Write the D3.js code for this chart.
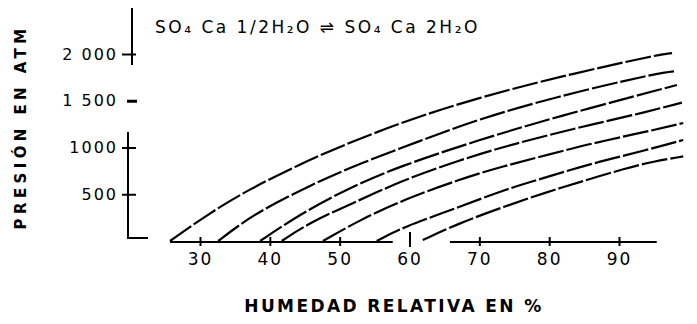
<!DOCTYPE html>
<html><head><meta charset="utf-8">
<script src="https://cdn.jsdelivr.net/npm/d3@7/dist/d3.min.js"></script>
<style>body{margin:0;background:#fff}svg{display:block}</style>
</head><body><svg id="c" width="697" height="324"></svg>
<script>
// ---- data ----
const chartTitle = "SO₄ Ca 1/2H₂O ⇌ SO₄ Ca 2H₂O";
const xTitle = "HUMEDAD RELATIVA EN %";
const yTitle = "PRESIÓN EN ATM";
const xTicks = [30, 40, 50, 60, 70, 80, 90];
const xTickLabels = ["30", "40", "50", "60", "70", "80", "90"];
const yTicks = [500, 1000, 1500, 2000];
const yTickLabels = ["500", "1000", "1 500", "2 000"];
// [humedad relativa %, presión atm]
const curve1 = [[25.7,0],[31.4,300],[37.2,560],[44.3,820],[50.0,1010],[59.6,1290],[69.7,1530],[81.6,1760],[95.4,1990],[97.6,2010]];
const curve2 = [[32.6,0],[35.7,175],[38.6,320],[45.3,580],[52.9,830],[61.5,1070],[69.7,1300],[81.1,1545],[95.4,1795],[98.3,1818]];
const curve3 = [[38.6,0],[44.3,285],[51.1,560],[58.6,800],[69.7,1075],[81.1,1330],[98.3,1668]];
const curve4 = [[41.7,0],[45.8,203],[52.9,438],[59.1,652],[67.2,866],[73.4,1005],[79.7,1130],[86.3,1250],[93.4,1370],[99.0,1480]];
const curve5 = [[47.6,0],[52.9,225],[59.1,439],[67.2,660],[73.4,800],[79.7,920],[86.3,1048],[93.4,1160],[99.2,1262]];
const curve6 = [[55.3,0],[59.1,150],[67.2,364],[73.4,545],[79.7,684],[86.3,834],[94.0,973],[99.2,1080]];
const curve7 = [[61.9,11],[67.2,193],[73.4,364],[79.7,524],[84.4,631],[91.1,781],[94.9,850],[99.2,905]];
const curves = [curve1, curve2, curve3, curve4, curve5, curve6, curve7];

// ---- layout ----
const svg = d3.select("#c");
const x = d3.scaleLinear().domain([30, 90]).range([200, 619]);
const y = d3.scaleLinear().domain([0, 2000]).range([241, 54]);
const font = "'DejaVu Sans', sans-serif";
const yAxisX = 130;

// curves
const line = d3.line().x(d => x(d[0])).y(d => y(d[1])).curve(d3.curveBasis);
svg.append("g").selectAll("path").data(curves).join("path")
  .attr("d", line)
  .attr("fill", "none").attr("stroke", "#000").attr("stroke-width", 2.2)
  .attr("stroke-dasharray", "26 3");

// y axis (broken line as in the original)
const gy = svg.append("g").attr("transform", `translate(${yAxisX},0)`);
gy.append("line").attr("x1", 2).attr("x2", 2).attr("y1", 8).attr("y2", 65)
  .attr("stroke", "#000").attr("stroke-width", 2);
gy.append("line").attr("x1", -2).attr("x2", -2).attr("y1", 132).attr("y2", 239)
  .attr("stroke", "#000").attr("stroke-width", 2);
gy.append("line").attr("x1", -3).attr("x2", 18).attr("y1", 238).attr("y2", 238)
  .attr("stroke", "#000").attr("stroke-width", 2);
const yAxis = d3.axisLeft(y).tickValues(yTicks)
  .tickFormat((d, i) => yTickLabels[i]).tickSize(0).tickPadding(12);
const ya = svg.append("g").attr("transform", `translate(${yAxisX},0)`).call(yAxis);
ya.select(".domain").remove();
ya.selectAll(".tick line")
  .attr("x1", d => d === 1500 ? -3 : -8)
  .attr("x2", d => d === 1500 ? 7 : 6)
  .attr("stroke", "#000").attr("stroke-width", d => d === 1500 ? 3 : 2);
ya.selectAll(".tick text").attr("font-family", font).attr("font-size", 16)
  .attr("letter-spacing", 2).attr("fill", "#000").attr("x", -12);

// x axis (broken line as in the original)
const gx = svg.append("g");
[[25.7, 57.6], [65.8, 95.4]].forEach(s => {
  gx.append("line").attr("x1", x(s[0])).attr("x2", x(s[1]))
    .attr("y1", 242).attr("y2", 242).attr("stroke", "#000").attr("stroke-width", 2);
});
const xAxis = d3.axisBottom(x).tickValues(xTicks)
  .tickFormat((d, i) => xTickLabels[i]).tickSize(0).tickPadding(11);
const xa = svg.append("g").attr("transform", "translate(0,242)").call(xAxis);
xa.select(".domain").remove();
xa.selectAll(".tick line")
  .attr("y1", d => d === 60 ? -10 : -5)
  .attr("y2", d => d === 60 ? 5 : 4)
  .attr("stroke", "#000").attr("stroke-width", 2);
xa.selectAll(".tick text").attr("font-family", font).attr("font-size", 17)
  .attr("letter-spacing", 2).attr("fill", "#000");

// titles
svg.append("text").attr("x", 155).attr("y", 33)
  .attr("font-family", font).attr("font-size", 17).attr("letter-spacing", 2.5)
  .attr("fill", "#000").text(chartTitle);
svg.append("text").attr("x", 394).attr("y", 312).attr("text-anchor", "middle")
  .attr("font-family", font).attr("font-size", 17).attr("font-weight", "bold")
  .attr("letter-spacing", 2.4).attr("fill", "#000").text(xTitle);
svg.append("text").attr("transform", "translate(26,127) rotate(-90)")
  .attr("text-anchor", "middle")
  .attr("font-family", font).attr("font-size", 15).attr("font-weight", "bold")
  .attr("letter-spacing", 4.4).attr("fill", "#000").text(yTitle);
</script></body></html>
